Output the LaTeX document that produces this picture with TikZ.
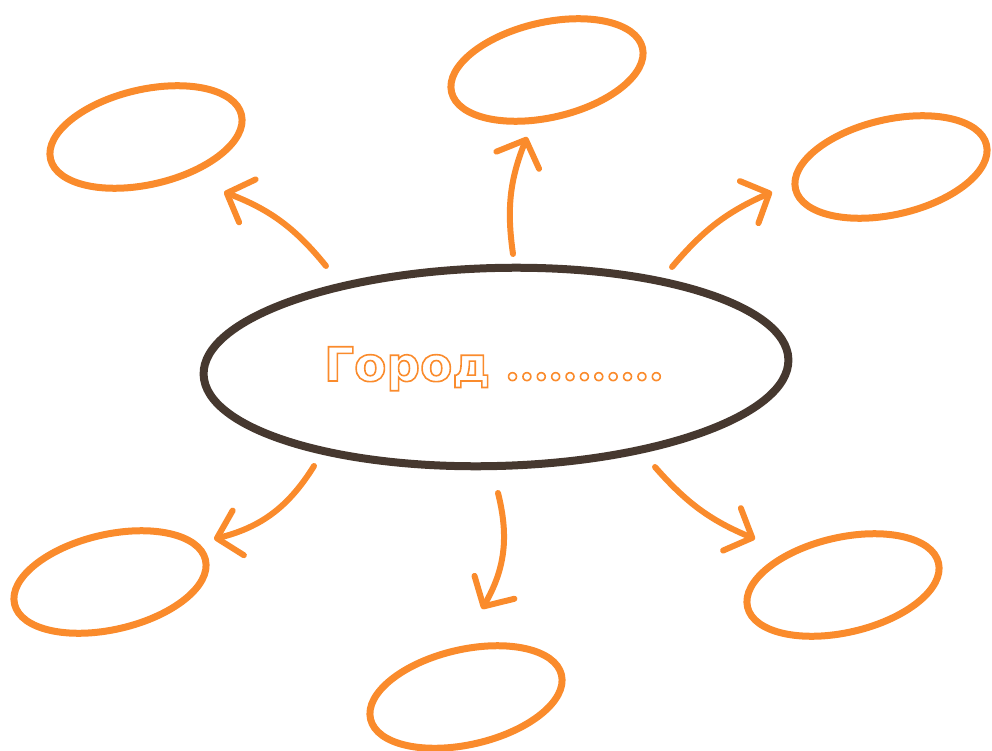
\documentclass[tikz,border=0pt]{standalone}
\usepackage{fontspec}
\usetikzlibrary{arrows.meta,shapes.geometric}
\newfontfamily\labelfont{DejaVu Sans Bold}
\definecolor{mapor}{RGB}{250,139,44}
\definecolor{mapbr}{RGB}{70,56,47}
% outlined (stroked, unfilled) glyphs
\newcommand\hollow[1]{\special{pdf:literal direct 1 Tr 1.6 w}#1\special{pdf:literal direct 0 Tr}}
\begin{document}
\begin{tikzpicture}[x=1pt,y=-1pt,
  hub/.style={ellipse, draw=mapbr, line width=8pt, minimum width=585pt,
    minimum height=198pt, rotate=1.5, inner sep=0pt},
  leaf/.style={ellipse, draw=mapor, line width=7pt, minimum width=196pt,
    minimum height=95pt, rotate=13, inner sep=0pt},
  link/.style={draw=mapor, line width=6pt, line cap=round,
    -{Straight Barb[length=22pt,width=46pt,line width=6pt,round]}}
]
\useasboundingbox (0,0) rectangle (992,751);

% central topic
\node[hub] (hub) at (496,367) {};
\node[anchor=base west, inner sep=0pt, text=mapor] (title) at (324,381)
  {\labelfont\fontsize{47}{52}\selectfont\hollow{Город}\hspace{15pt}%
   {\fontsize{22.5}{26}\selectfont\raisebox{-4pt}{\hollow{•••••••••••}}}};

% surrounding ideas
\node[leaf] (tl) at (146,137) {};
\node[leaf] (tc) at (547,70) {};
\node[leaf] (tr) at (891,167) {};
\node[leaf] (bl) at (110,582) {};
\node[leaf] (bc) at (466,697) {};
\node[leaf] (br) at (843,585) {};

% arrow ends
\coordinate (s1) at (326,266); \coordinate (t1) at (224,192);
\coordinate (s2) at (513,254); \coordinate (t2) at (527,137);
\coordinate (s3) at (672,267); \coordinate (t3) at (772,192);
\coordinate (s4) at (314,466); \coordinate (t4) at (214,539);
\coordinate (s5) at (498,493); \coordinate (t5) at (482,609);
\coordinate (s6) at (655,467); \coordinate (t6) at (755,539);

\draw[link] (s1) to[bend right=15] (t1);
\draw[link] (s2) to[bend left=15] (t2);
\draw[link] (s3) to[bend left=13] (t3);
\draw[link] (s4) to[bend left=22] (t4);
\draw[link] (s5) to[bend left=22] (t5);
\draw[link] (s6) to[bend right=13] (t6);
\end{tikzpicture}
\end{document}
